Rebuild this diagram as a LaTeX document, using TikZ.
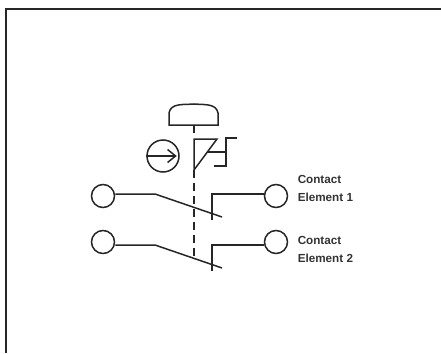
\documentclass[tikz,border=0pt]{standalone}
\usepackage{fontspec}
\usetikzlibrary{arrows.meta}
\setmainfont{Liberation Sans}
\tikzstyle{terminal}=[circle, draw, minimum width=23pt, inner sep=0pt]
\tikzstyle{lbl}=[align=left, anchor=west, inner sep=0pt, font=\fontsize{11.7}{18}\selectfont\bfseries, text=black!80]
\begin{document}
\begin{tikzpicture}[x=1pt, y=-1pt, line width=1.5pt, black!85]
                \useasboundingbox (0, 0) rectangle (441, 353);
                \draw[line width=2.4pt] (6, 353)--(6, 9)--(441, 9);
                % push button
                \coordinate (capb) at (194, 125);
                \coordinate (la) at (194, 139);
                \coordinate (lb) at (217, 139);
                \coordinate (lc) at (194, 170);
                \draw (capb)-|(169, 113) to[out=80, in=185] (194, 104) to[out=-5, in=100] (218, 113)|-(capb);
                \draw (capb)--(194, 133);
                % pull symbol
                \node[terminal, minimum width=32pt] (pull) at (163, 156) {};
                \draw[-{Straight Barb[length=8pt, width=13pt]}] (pull.west)--([xshift=-3pt]pull.east);
                % latch
                \draw (lb)--(la)--(lc)--cycle;
                \draw (207, 152)--(226, 152);
                \draw (237, 138)--(226, 138)--(226, 166)--(214, 166);
                % shaft
                \coordinate (sb) at (194, 258);
                \draw[dash pattern=on 8pt off 5pt] (lc)--(sb);
                % contact 1
                \node[terminal] (t1) at (103, 196) {};
                \node[terminal] (o1) at (276, 196) {};
                \coordinate (k1) at (155, 194);
                \coordinate (e1) at (222, 217);
                \draw (t1.east |- k1)--(k1)--(e1);
                \draw (o1.west |- k1)--(212, 194)--(212, 220);
                \node[lbl] (c1) at (297, 188) {Contact\\Element 1};
                % contact 2
                \node[terminal] (t2) at (103, 242) {};
                \node[terminal] (o2) at (276, 242) {};
                \coordinate (k2) at (155, 245);
                \coordinate (e2) at (222, 268);
                \draw (t2.east |- k2)--(k2)--(e2);
                \draw (o2.west |- k2)--(212, 245)--(212, 271);
                \node[lbl] (c2) at (297, 249) {Contact\\Element 2};
            \end{tikzpicture}
\end{document}
